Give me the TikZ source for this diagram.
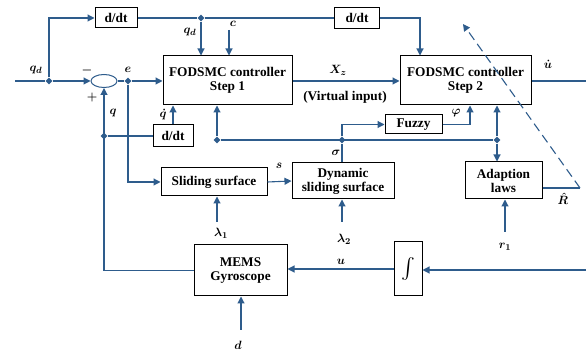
\documentclass[tikz,border=0pt]{standalone}
\usepackage{amsmath}
\usepackage{fontspec}
\setmainfont{Liberation Serif}
\usepackage{tikz}
\usetikzlibrary{shapes.geometric, arrows.meta}
\definecolor{wire}{RGB}{46,92,140}

\tikzset{
  block/.style={draw=black, line width=1pt, fill=white, align=center, inner sep=1pt,
    font=\fontsize{13.3}{14}\selectfont\bfseries},
  sumnode/.style={draw=wire, ellipse, line width=1pt, minimum width=26pt, minimum height=13pt, inner sep=0pt},
  dot/.style={diamond, fill=wire, inner sep=0pt, minimum size=7pt},
  lbl/.style={font=\fontsize{13}{14}\selectfont\boldmath},
  sig/.style={draw=wire, line width=1.1pt},
  arr/.style={sig, -{Triangle[width=7pt,length=7pt]}},
}

\begin{document}
\begin{tikzpicture}[x=1pt, y=-1pt]
   \useasboundingbox (0,0) rectangle (586,352);
   % blocks
   \node[sumnode] (sum) at (104,81) {};
   \node[block, minimum width=42pt, minimum height=20pt] (ddt1) at (116,18) {d/dt};
   \node[block, minimum width=45pt, minimum height=21pt] (ddt2) at (357,18) {d/dt};
   \node[block, minimum width=40pt, minimum height=22pt] (ddt3) at (173,136) {d/dt};
   \node[block, minimum width=129pt, minimum height=49pt] (ctrl1) at (227.5,80.5) {FODSMC controller\\Step 1};
   \node[block, minimum width=131pt, minimum height=49pt] (ctrl2) at (465.5,80.5) {FODSMC controller\\Step 2};
   \node[block, minimum width=57pt, minimum height=19pt] (fuzzy) at (413.5,124.5) {Fuzzy};
   \node[block, minimum width=106pt, minimum height=28pt] (slide) at (214,182) {Sliding surface};
   \node[block, minimum width=102pt, minimum height=36pt] (dyn) at (343,181) {Dynamic\\sliding surface};
   \node[block, minimum width=77pt, minimum height=37pt] (adapt) at (503.5,180.5) {Adaption\\laws};
   \node[block, minimum width=93pt, minimum height=51pt] (mems) at (240.5,270.5) {MEMS\\Gyroscope};
   \node[block, minimum width=28pt, minimum height=54pt, font=\fontsize{22}{24}\selectfont] (integ) at (408,269) {$\int$};

   % branch points
   \node[dot] (dqd) at (49,81) {};
   \node[dot] (de) at (128,81) {};
   \node[dot] (dtop) at (201,18) {};
   \node[dot] (dq) at (104,136) {};
   \node[dot] (ds1) at (217,140) {};
   \node[dot] (dsig) at (342,140) {};
   \node[dot] (ds2) at (497,140) {};

   % free ends
   \coordinate (qin) at (15,81);
   \coordinate (cin) at (229,30);
   \coordinate (uout) at (586,81);
   \coordinate (iin) at (586,270);
   \coordinate (l1in) at (217,222);
   \coordinate (l2in) at (342,222);
   \coordinate (r1in) at (505,232);
   \coordinate (din) at (241,330);
   \coordinate (rcorner) at (580,188);
   \coordinate (rtip) at (463,24);

   % q_d path
   \draw[sig] (qin) -- (dqd);
   \draw[arr] (dqd) -- (sum.west);
   \draw[arr] (dqd) |- (ddt1.west);
   \draw[sig] (ddt1.east) -- (dtop) -- (ddt2.west);
   \draw[arr] (dtop) -- (dtop |- ctrl1.north);
   \draw[arr] (cin) -- (cin |- ctrl1.north);
   \draw[arr] (ddt2.east) -| (420,0 |- ctrl2.north);
   % error e
   \draw[sig] (sum.east) -- (de);
   \draw[arr] (de) -- (de -| ctrl1.west);
   \draw[arr] (de) |- (slide.west);
   % feedback q
   \draw[arr] (mems.west) -| (sum.south);
   \draw[sig] (dq) -- (ddt3.west);
   \draw[arr] (ddt3.north) -- (ddt3.north |- ctrl1.south);
   % sliding surfaces
   \draw[arr] (slide.east) -- (dyn.west);
   \draw[arr] (l1in) -- (l1in |- slide.south);
   \draw[arr] (l2in) -- (l2in |- dyn.south);
   \draw[sig] (dsig |- dyn.north) -- (dsig);
   \draw[sig] (ds1) -- (ds2);
   \draw[arr] (ds1) -- (ds1 |- ctrl1.south);
   \draw[arr] (dsig) |- (fuzzy.west);
   \draw[arr] (fuzzy.east) -| (470,0 |- ctrl2.south);
   \draw[arr] (ds2) -- (ds2 |- ctrl2.south);
   \draw[arr] (ds2) -- (ds2 |- adapt.north);
   % controllers
   \draw[arr] (ctrl1.east |- 0,81) -- (ctrl2.west |- 0,81);
   \draw[sig] (ctrl2.east |- 0,81) -- (uout);
   % adaption
   \draw[arr] (r1in) -- (r1in |- adapt.south);
   \draw[sig] (rcorner -| adapt.east) -- (rcorner);
   \draw[arr, dash pattern=on 9pt off 5pt] (rcorner) -- (rtip);
   % plant
   \draw[arr] (iin) -- (integ.east |- iin);
   \draw[arr] (integ.west) -- (mems.east |- integ.west);
   \draw[arr] (din) -- (din |- mems.south);

   % labels
   \node[lbl] (lqd) at (36,70) {$q_d$};
   \node[lbl] (lminus) at (87,71) {$-$};
   \node[lbl] (lplus) at (92,98) {$+$};
   \node[lbl] (le) at (128,70) {$e$};
   \node[lbl] (lq) at (113,113) {$q$};
   \node[lbl] (lqdot) at (163,115) {$\dot{q}$};
   \node[lbl] (lqd2) at (190,32) {$q_d$};
   \node[lbl] (lc) at (233,24) {$c$};
   \node[lbl] (lx) at (338,70) {$X_z$};
   \node[block, draw=none, fill=none] (lvi) at (345,97) {(Virtual input)};
   \node[lbl] (ls) at (279,166) {$s$};
   \node[lbl] (lsig) at (336,153) {$\sigma$};
   \node[lbl] (lphi) at (456,113) {$\varphi$};
   \node[lbl] (lu) at (548,64) {$\dot{u}$};
   \node[lbl] (lR) at (563,199) {$\hat{R}$};
   \node[lbl] (ll1) at (221,233) {$\lambda_1$};
   \node[lbl] (ll2) at (344,239) {$\lambda_2$};
   \node[lbl] (lr1) at (505,247) {$r_1$};
   \node[lbl] (luu) at (341,262) {$u$};
   \node[lbl] (ld) at (238,345) {$d$};
\end{tikzpicture}
\end{document}
